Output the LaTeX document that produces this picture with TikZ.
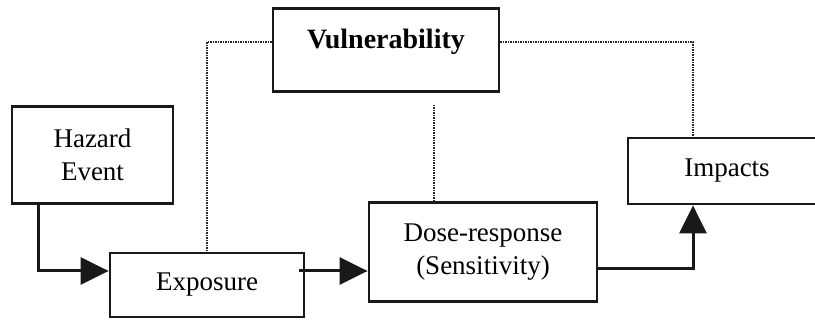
\documentclass[tikz,border=0pt]{standalone}
\usepackage{fontspec}
\setmainfont{Liberation Serif}
\usetikzlibrary{arrows.meta}
\tikzset{
  box/.style={draw=black!90, line width=2.8pt, rectangle, align=center, inner sep=0pt,
    font=\fontsize{27}{32.5}\selectfont},
  arrowline/.style={draw=black!90, line width=3pt, -{Triangle[length=28pt,width=27pt]}},
  dotline/.style={draw=black!85, line width=1.6pt, dash pattern=on 1.4pt off 1.1pt}
}
\begin{document}
\begin{tikzpicture}[x=1pt,y=-1pt]
\useasboundingbox (0,0) rectangle (815,320);
\fill[white] (0,0) rectangle (815,320);
\clip (0,0) rectangle (815,320);
\node[box, minimum width=161pt, minimum height=97pt] (hazard) at (92.5,155) {Hazard\\Event};
\node[box, minimum width=194pt, minimum height=64pt] (exposure) at (207,285) {Exposure};
\node[box, minimum width=226pt, minimum height=83pt] (vuln) at (386,50) {};
\node[font=\fontsize{28}{32}\selectfont\bfseries, inner sep=0pt] (vulnlabel) at (386,42) {Vulnerability};
\node[box, minimum width=228pt, minimum height=99pt] (dose) at (483,252) {Dose-response\\(Sensitivity)};
\node[box, minimum width=198pt, minimum height=66pt] (impacts) at (727,171) {Impacts};
% helper coordinates
\coordinate (hx) at (38,0);
\coordinate (ix) at (693,0);
\coordinate (e1) at ([yshift=14pt]exposure.east);
\coordinate (d1) at ([yshift=-17pt]dose.east);
\coordinate (v1) at ([yshift=8pt]vuln.west);
\coordinate (v2) at ([yshift=8pt]vuln.east);
\coordinate (v3) at (434,105);
% arrows
\draw[arrowline] (hx |- hazard.south) |- ([yshift=14pt]exposure.west);
\draw[arrowline] ([xshift=-6pt]e1) -- (e1 -| dose.west);
\draw[arrowline] (d1) -| (ix |- impacts.south);
% dotted links
\draw[dotline] (v1) -| (exposure.north);
\draw[dotline] (v2) -| (ix |- impacts.north);
\draw[dotline] (v3) -- (v3 |- dose.north);
\end{tikzpicture}
\end{document}
